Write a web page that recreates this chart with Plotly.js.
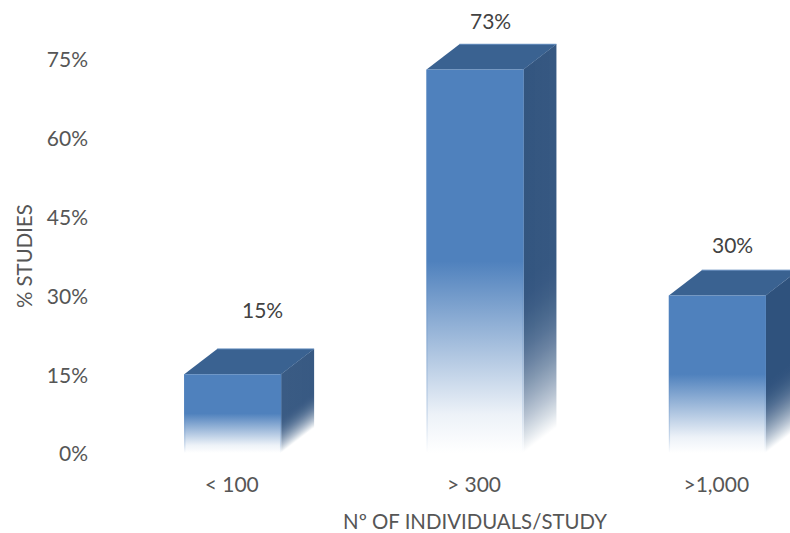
<!DOCTYPE html>
<html>
<head>
<meta charset="utf-8">
<script src="https://cdn.plot.ly/plotly-3.0.1.min.js"></script>
<style>html,body{margin:0;padding:0;background:#fff;overflow:hidden}</style>
</head>
<body>
<div id="chart" style="width:790px;height:533px"></div>
<script>
// Share of studies by number of individuals per study
const categories = ['< 100', '> 300', '>1,000'];
const studyShare = [15, 73, 30];
const yTicks = [0, 15, 30, 45, 60, 75];

// Box geometry, in axis units
const halfWidth = 0.2;
const depthX = 0.136;
const depthY = 4.8;

// Face colours
const frontColor = '#4f81bd';
const topColor = '#3a6291';
const sideColor = '#2f527d';
const rimColor = '#5a85b8';

// Label offsets from the top of each box, in px
const labelNudge = [[30, 65], [15, 49], [15, 51]];

function mix(hex, t) {
  const n = parseInt(hex.slice(1), 16);
  const c = [n >> 16, (n >> 8) & 255, n & 255].map(v => Math.round(v + (255 - v) * t));
  return `rgb(${c[0]},${c[1]},${c[2]})`;
}

function poly(xs, ys, extra) {
  return Object.assign({
    x: xs.concat(xs[0]), y: ys.concat(ys[0]),
    mode: 'lines', fill: 'toself', line: {width: 0},
    hoverinfo: 'skip', showlegend: false, cliponaxis: false
  }, extra);
}

function frontFill(v, edge) {
  return {
    type: 'vertical', start: 0, stop: v,
    colorscale: [[0, '#ffffff'], [0.1, mix(frontColor, edge)], [0.5, frontColor], [1, frontColor]]
  };
}

// Side-face ramp: solid over the upper part, easing to white at the base
const sideRamp = [];
for (let k = 0; k <= 10; k++) {
  const p = k * 0.045;
  sideRamp.push([p, mix(sideColor, Math.pow(1 - p / 0.45, 1.9))]);
}
sideRamp.push([1, sideColor]);

const traces = [];
studyShare.forEach((v, i) => {
  const l = i - halfWidth, r = i + halfWidth;

  // Side face: narrow columns, each gradient shifted up so the fade follows the depth slant
  const columns = 33;
  for (let c = 0; c < columns; c++) {
    const a = c / columns;
    const b = Math.min(1, (c + 1.5) / columns);
    const shift = depthY * (a + b) / 2;
    traces.push(poly(
      [r + depthX * a, r + depthX * b, r + depthX * b, r + depthX * a],
      [depthY * a, depthY * b, v + depthY * b, v + depthY * a],
      {fillgradient: {type: 'vertical', start: shift, stop: v + shift, colorscale: sideRamp}}
    ));
  }

  // Top face and its lighter back rim
  traces.push(poly([l, r, r + depthX, l + depthX], [v, v, v + depthY, v + depthY], {fillcolor: topColor}));
  traces.push({
    x: [l + depthX, r + depthX], y: [v + depthY, v + depthY], mode: 'lines',
    line: {color: rimColor, width: 1}, hoverinfo: 'skip', showlegend: false, cliponaxis: false
  });

  // Front face: solid upper half, fading to white at the baseline
  traces.push(poly([l, r, r, l], [0, 0, v, v], {fillgradient: frontFill(v, 0.9)}));

  // Thin edges that stay a little stronger through the fade
  const rim = 0.005;
  traces.push(poly([l, l + rim, l + rim, l], [0, 0, v, v], {fillgradient: frontFill(v, 0.7)}));
  traces.push(poly([r - rim, r, r, r - rim], [0, 0, v, v], {fillgradient: frontFill(v, 0.7)}));
});

const tickFont = {family: 'Lato, Carlito, sans-serif', size: 21, color: '#565656'};
const titleFont = {family: 'Lato, Carlito, sans-serif', size: 20.4, color: '#565656'};

const layout = {
  width: 790, height: 533,
  margin: {l: 160, r: 0, t: 0, b: 80},
  paper_bgcolor: '#ffffff', plot_bgcolor: 'rgba(0,0,0,0)',
  showlegend: false,
  xaxis: {
    range: [-0.3, 2.3], tickmode: 'array',
    tickvals: categories.map((_, i) => i), ticktext: categories,
    showgrid: false, zeroline: false, showline: false, ticks: '',
    ticklabelstandoff: 17, ticklabelshift: -1, tickfont: tickFont, automargin: false,
    title: {text: 'Nº OF INDIVIDUALS/STUDY', font: titleFont, standoff: 22}
  },
  yaxis: {
    range: [0, 86.23], tickmode: 'array',
    tickvals: yTicks, ticktext: yTicks.map(t => t + '%'),
    showgrid: false, zeroline: false, showline: false, ticks: '',
    ticklabelstandoff: 71, ticklabelshift: 1, tickfont: tickFont, automargin: false
  },
  annotations: studyShare.map((v, i) => ({
    x: i, y: v, xref: 'x', yref: 'y', text: v + '%', showarrow: false,
    xshift: labelNudge[i][0], yshift: labelNudge[i][1],
    font: {family: 'Lato, Carlito, sans-serif', size: 21, color: '#424242'}
  })).concat([{
    // Vertical axis title, centred on the 0–75% span
    x: 0, y: 37.5, xref: 'paper', yref: 'y', xanchor: 'center', xshift: -136, textangle: -90,
    text: '% STUDIES', showarrow: false, font: titleFont
  }])
};

Plotly.newPlot('chart', traces, layout, {displayModeBar: false, staticPlot: true});
</script>
</body>
</html>
